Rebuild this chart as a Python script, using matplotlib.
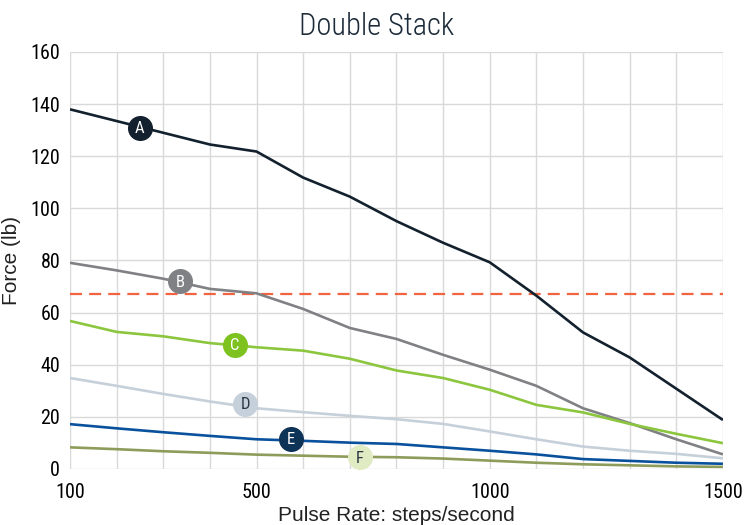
import matplotlib
matplotlib.use("Agg")
import matplotlib.pyplot as plt

# pulse rate (steps/second)
rate = [100, 200, 300, 400, 500, 600, 700, 800, 900, 1000, 1100, 1200, 1300, 1400, 1500]

# force (lb) per curve
force_a = [138, 133.5, 129, 124.5, 121.8, 111.8, 104.5, 95.1, 86.8, 79.3, 66.5, 52.4, 42.8, 30.8, 18.8]
force_b = [79.1, 76.2, 73, 69.1, 67.4, 61.4, 54.1, 49.9, 43.8, 38.1, 31.9, 23.3, 17.6, 11.4, 5.6]
force_c = [56.8, 52.6, 50.9, 48.3, 46.7, 45.4, 42.3, 37.8, 34.9, 30.4, 24.6, 21.7, 17.3, 13.5, 9.9]
force_d = [34.9, 31.9, 28.8, 25.9, 23.3, 21.8, 20.4, 19.1, 17.3, 14.4, 11.4, 8.6, 7.0, 5.8, 4.1]
force_e = [17.2, 15.6, 14.1, 12.7, 11.4, 10.8, 10.1, 9.6, 8.3, 7.0, 5.6, 3.8, 3.1, 2.4, 2.0]
force_f = [8.3, 7.6, 6.8, 6.2, 5.5, 5.1, 4.7, 4.5, 4.0, 3.2, 2.4, 1.8, 1.4, 1.0, 0.8]

limit_force = 67

labels = ["A", "B", "C", "D", "E", "F"]
label_x = [250, 336, 454, 476, 574, 722]
label_y = [131, 72, 47.5, 25, 11.5, 4.5]

line_colors = ["#13202d", "#808184", "#8cc63e", "#c5d0da", "#0a519d", "#8e9c5b"]
marker_colors = ["#13202d", "#808184", "#7dc21e", "#c5d0da", "#0d3357", "#e1ebc3"]
text_colors = ["white", "white", "white", "#2a3744", "white", "#2a3744"]

narrow = ["Roboto Condensed", "DejaVu Sans"]
plain = ["Liberation Sans", "DejaVu Sans"]

fig = plt.figure(figsize=(7.54, 5.25), dpi=100)
ax = fig.add_axes([0.0928, 0.1067, 0.866, 0.7943])

series = [force_a, force_b, force_c, force_d, force_e, force_f]
for vals, col in zip(series, line_colors):
    ax.plot(rate, vals, color=col, lw=1.9, zorder=3, solid_capstyle="butt")

ax.axhline(limit_force, color="#f26440", lw=1.6, ls=(0, (5.4, 3.2)), zorder=2)

# letter badges on each curve
for lab, x, y, mc, tc in zip(labels, label_x, label_y, marker_colors, text_colors):
    ax.plot(x, y, "o", ms=17, color=mc, mec=mc, zorder=5)
    ax.text(x, y - 0.3, lab, ha="center", va="center", color=tc, fontsize=12,
            family=narrow, zorder=6)

ax.set_xlim(100, 1500)
ax.set_ylim(0, 160)
ax.set_xticks(range(100, 1501, 100), minor=True)
ax.set_xticks([100, 500, 1000, 1500])
ax.set_yticks(range(0, 161, 20))
ax.grid(True, which="both", color="#d9d9d9", lw=1.0, zorder=0)
ax.tick_params(which="both", length=0, labelsize=14.5, colors="#000000")
ax.tick_params(axis="x", pad=10)
ax.tick_params(axis="y", pad=7)
for lbl in ax.get_xticklabels() + ax.get_yticklabels():
    lbl.set_family(narrow)
for s in ax.spines.values():
    s.set_visible(False)

ax.set_xlabel("Pulse Rate: steps/second", fontsize=15, family=plain,
              color="#222222", labelpad=3)
ax.set_ylabel("Force (lb)", fontsize=15, family=plain, color="#222222")
ax.yaxis.set_label_coords(-0.075, 0.5)
fig.suptitle("Double Stack", x=0.5, y=0.978, fontsize=22, family=narrow,
             fontweight=300, color="#1c2b3a")

fig.savefig("out.png", dpi=100)
